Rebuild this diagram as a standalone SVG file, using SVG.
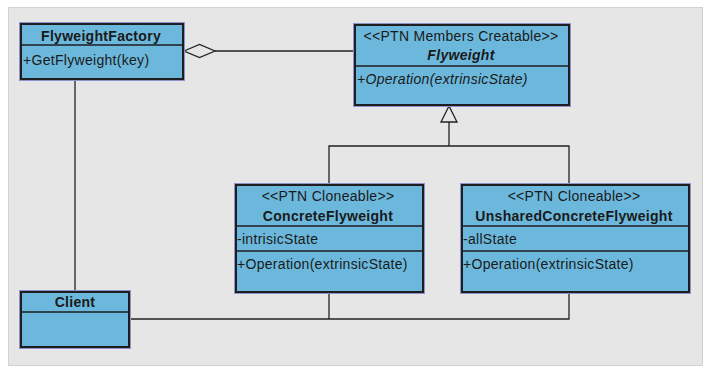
<svg xmlns="http://www.w3.org/2000/svg" width="710" height="392" viewBox="0 0 710 392">
<style>
.box{fill:#6CB8DC;stroke:#1E1E1E;stroke-width:2}
.halo{fill:none;stroke:#8E92CE;stroke-width:1}
.sep{stroke:#1E1E1E;stroke-width:1.5}
.t{font-family:"Liberation Sans",Arial,sans-serif;font-size:14px;letter-spacing:0.3px;fill:#1A1A1A}
.b{font-weight:bold;text-anchor:middle}
.c{text-anchor:middle}
.i{font-style:italic}
.ln{fill:none;stroke:#222;stroke-width:1.3}
</style>
<rect x="0" y="0" width="710" height="392" fill="#FFFFFF"/>
<rect x="8.5" y="7.5" width="694" height="358" fill="#E6E6E6" stroke="#D2D2D2" stroke-width="1"/>
<g id="connectors">
<line class="ln" x1="215" y1="51" x2="355" y2="51"/>
<polygon points="184,51 199.5,44.5 215,51 199.5,57.5" fill="#E6E6E6" stroke="#222" stroke-width="1.3"/>
<polyline class="ln" points="329,185 329,146 569,146 569,185"/>
<line class="ln" x1="449" y1="146" x2="449" y2="122"/>
<polygon points="449,106 441,122 457,122" fill="#E6E6E6" stroke="#222" stroke-width="1.3"/>
<line class="ln" x1="75" y1="80" x2="75" y2="292"/>
<polyline class="ln" points="130,319 569,319 569,292"/>
<line class="ln" x1="329" y1="292" x2="329" y2="319"/>
</g>
<g id="FlyweightFactory">
<rect class="halo" x="19.5" y="22.5" width="165" height="58"/>
<rect class="box" x="21" y="24" width="162" height="55"/>
<line class="sep" x1="21" y1="45" x2="183" y2="45"/>
<text class="t b" x="101" y="41">FlyweightFactory</text>
<text class="t" x="23" y="65">+GetFlyweight(key)</text>
</g>
<g id="Flyweight">
<rect class="halo" x="353.5" y="23.5" width="217" height="83"/>
<rect class="box" x="355" y="25" width="214" height="80"/>
<line class="sep" x1="355" y1="66" x2="569" y2="66"/>
<text class="t c" x="461" y="41">&lt;&lt;PTN Members Creatable&gt;&gt;</text>
<text class="t b i" x="461" y="60">Flyweight</text>
<text class="t i" x="357" y="84">+Operation(extrinsicState)</text>
</g>
<g id="ConcreteFlyweight">
<rect class="halo" x="234.5" y="183.5" width="190" height="110"/>
<rect class="box" x="236" y="185" width="187" height="107"/>
<line class="sep" x1="236" y1="226" x2="423" y2="226"/>
<line class="sep" x1="236" y1="251" x2="423" y2="251"/>
<text class="t c" x="328" y="201">&lt;&lt;PTN Cloneable&gt;&gt;</text>
<text class="t b" x="328" y="221">ConcreteFlyweight</text>
<text class="t" x="237" y="244">-intrisicState</text>
<text class="t" x="237" y="269">+Operation(extrinsicState)</text>
</g>
<g id="UnsharedConcreteFlyweight">
<rect class="halo" x="460.5" y="183.5" width="230" height="110"/>
<rect class="box" x="462" y="185" width="227" height="107"/>
<line class="sep" x1="462" y1="226" x2="689" y2="226"/>
<line class="sep" x1="462" y1="251" x2="689" y2="251"/>
<text class="t c" x="574" y="201">&lt;&lt;PTN Cloneable&gt;&gt;</text>
<text class="t b" x="574" y="221">UnsharedConcreteFlyweight</text>
<text class="t" x="463" y="244">-allState</text>
<text class="t" x="463" y="269">+Operation(extrinsicState)</text>
</g>
<g id="Client">
<rect class="halo" x="19.5" y="290.5" width="111" height="58"/>
<rect class="box" x="21" y="292" width="108" height="55"/>
<line class="sep" x1="21" y1="312" x2="129" y2="312"/>
<text class="t b" x="75" y="307">Client</text>
</g>
</svg>
